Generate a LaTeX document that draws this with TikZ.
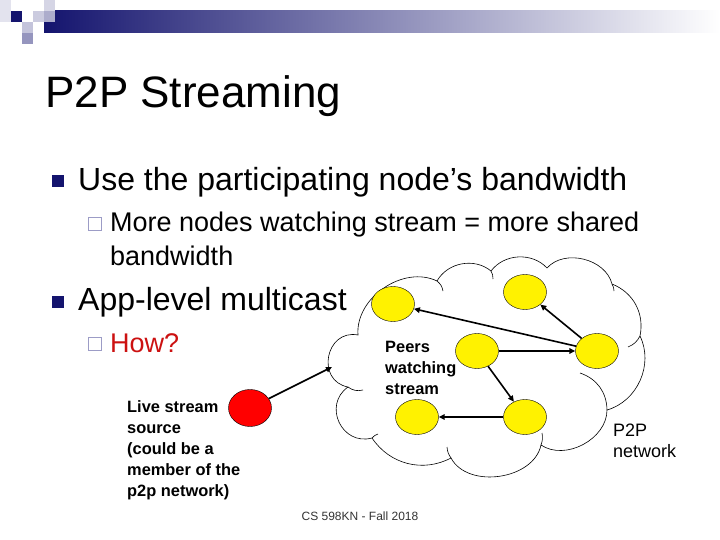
\documentclass[tikz,border=0pt]{standalone}
\usepackage{fontspec}
\setmainfont{Liberation Sans}
\usetikzlibrary{arrows.meta,shapes.geometric}
\definecolor{slidenavy}{HTML}{14146E}
\definecolor{bulletlav}{HTML}{9C9CC6}
\definecolor{howred}{HTML}{CC1111}

\begin{document}
\begin{tikzpicture}[
  x=1pt, y=-1pt,
  txt/.style={anchor=base west, inner sep=0pt, align=left},
  peer/.style={ellipse, draw, thin, fill=yellow, minimum width=43pt, minimum height=35pt, inner sep=0pt},
  srcpeer/.style={peer, fill=red, minimum height=37pt},
  bigbullet/.style={fill=slidenavy, minimum size=12pt, inner sep=0pt},
  smallbullet/.style={draw=bulletlav, line width=1.5pt, minimum size=13pt, inner sep=0pt},
  tag/.style={txt, font=\fontsize{16.4}{21}\selectfont\bfseries},
  puffline/.style={line width=0.6pt},
  link/.style={line width=1.6pt, -{Triangle[length=6pt,width=5.5pt]}}
]
\useasboundingbox (0,0) rectangle (720,540);

% header bar
\shade[left color=slidenavy, right color=white] (44,11) rectangle (720,33);
\fill[slidenavy!12] (0,0) rectangle (11,22);
\fill[slidenavy] (11,11) rectangle (22,22);
\fill[slidenavy!25] (22,22) rectangle (33,33);
\fill[slidenavy!45] (22,33) rectangle (33,44);
\fill[slidenavy!22] (33,11) rectangle (44,22);
\fill[slidenavy!18] (44,0) rectangle (55,11);
\fill[slidenavy!35] (44,11) rectangle (55,22);

% text (multi-line nodes sit on their last baseline)
\node[txt, font=\fontsize{44}{53}\selectfont] (title) at (45,108) {P2P Streaming};
\node[bigbullet] (b1) at (57.5,181.5) {};
\node[txt, font=\fontsize{32}{38}\selectfont] (use) at (78,191) {Use the participating node’s bandwidth};
\node[smallbullet] (s1) at (95,224) {};
\node[txt, font=\fontsize{27}{33}\selectfont] (more) at (110,265) {More nodes watching stream = more shared\\bandwidth};
\node[bigbullet] (b2) at (57.5,301.5) {};
\node[txt, font=\fontsize{32}{38}\selectfont] (app) at (78,310) {App-level multicast};
\node[smallbullet] (s2) at (95,344) {};
\node[txt, font=\fontsize{27}{33}\selectfont, text=howred] (how) at (110,352) {How?};

% cloud outline, puff by puff
\coordinate (ja) at (348,387);
\coordinate (jb) at (358,335);
\coordinate (jc) at (437,281);
\coordinate (jd) at (491,271);
\coordinate (je) at (547,268);
\coordinate (jf) at (612,284);
\coordinate (jg) at (640,336);
\coordinate (jh) at (607,410);
\coordinate (ji) at (541,445);
\coordinate (jj) at (451,458);
\coordinate (jk) at (372,438);
\filldraw[puffline, fill=white]
  (ja) to[bend left=90, looseness=1.6] (jb)
  to[bend left=60] (jc)
  to[bend left=50] (jd)
  to[bend left=50] (je)
  to[bend left=62] (jf)
  to[bend left=40] (jg)
  to[bend left=50] (jh)
  to[bend left=62] (ji)
  to[bend left=70] (jj)
  to[bend left=42] (jk)
  to[bend left=80, looseness=1.42] (ja);
% inner ends of the puffs
\draw[puffline] (363,390) to[bend left=25] (ja);
\draw[puffline] (jc) to[bend left=20] (443,291);
\draw[puffline] (jd) to[bend left=15] (493,279);
\draw[puffline] (jf) to[bend left=15] (614,291);
\draw[puffline] (jg) to[bend left=20] (628,347);
\draw[puffline] (580,373) to[bend left=35] (jh);
\draw[puffline] (542,433) to[bend left=15] (ji);
\draw[puffline] (jj) to[bend left=15] (447,447);
\draw[puffline] (jk) to[bend left=15] (378,434);
\coordinate (entry) at (332,367);

% peers
\node[peer] (pTL) at (393,304) {};
\node[peer] (pT) at (525,292) {};
\node[peer] (pC) at (477,351) {};
\node[peer] (pR) at (597,351) {};
\node[peer] (pBL) at (417,417) {};
\node[peer] (pBM) at (525,417) {};
\node[srcpeer] (src) at (250,408) {};

\draw[link] (src) -- (entry);
\draw[link] (pR) -- (pTL);
\draw[link] (pR) -- (pT);
\draw[link] (pC) -- (pR);
\draw[link] (pC) -- (pBM);
\draw[link] (pBM) -- (pBL);

\node[tag] (peers) at (385,394) {Peers\\watching\\stream};
\node[txt, font=\fontsize{18}{20.5}\selectfont] (netlabel) at (613,457) {P2P\\network};
\node[tag] (live) at (127,496) {Live stream\\source\\(could be a\\member of the\\p2p network)};

\node[anchor=base, inner sep=0pt, font=\fontsize{12}{14}\selectfont, text=black!80] (foot) at (360,520) {CS 598KN - Fall 2018};
\end{tikzpicture}
\end{document}
